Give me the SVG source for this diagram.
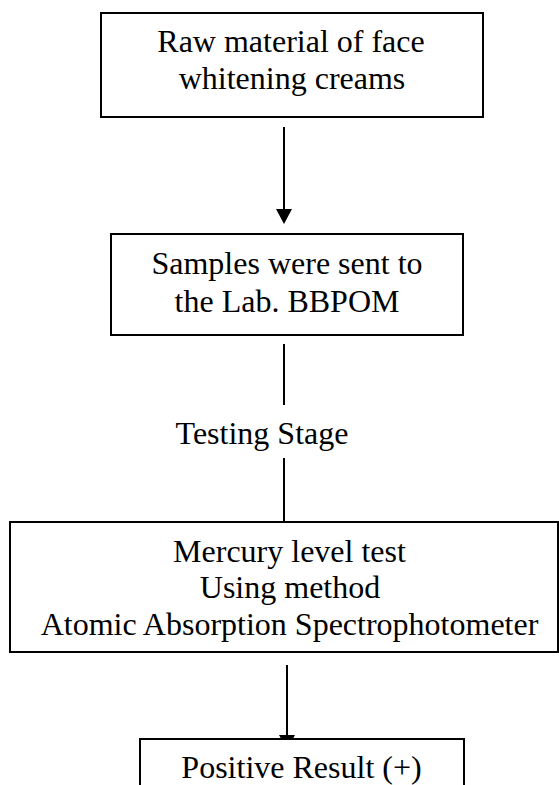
<svg xmlns="http://www.w3.org/2000/svg" width="559" height="785" viewBox="0 0 559 785">
<style>
.box{fill:#fff;stroke:#000;stroke-width:2}
.t{font-family:"Liberation Serif","Times New Roman",serif;font-size:32px;fill:#000;text-anchor:middle}
.c{stroke:#000;stroke-width:2;fill:none}
</style>
<defs>
<marker id="ah" markerUnits="userSpaceOnUse" markerWidth="16" markerHeight="16" viewBox="0 0 16 16" refX="8" refY="15" orient="auto-start-reverse">
<path d="M0,0 L16,0 L8,15 Z" fill="#000" transform="rotate(-90 8 8)"/>
</marker>
</defs>
<rect width="559" height="785" fill="#fff"/>
<g id="connectors">
<line class="c" x1="284" y1="127" x2="284" y2="210"/>
<path d="M276,209 L292,209 L284,224 Z" fill="#000"/>
<line class="c" x1="284" y1="344" x2="284" y2="405"/>
<line class="c" x1="284" y1="458" x2="284" y2="522"/>
<line class="c" x1="287" y1="665" x2="287" y2="740"/>
<path d="M279,735 L295,735 L287,750 Z" fill="#000"/>
</g>
<g id="node1">
<rect class="box" x="101" y="13" width="382" height="104"/>
<text class="t" x="291" y="52">Raw material of face</text>
<text class="t" x="292" y="89">whitening creams</text>
</g>
<g id="node2">
<rect class="box" x="111" y="234" width="352" height="101"/>
<text class="t" x="287" y="274">Samples were sent to</text>
<text class="t" x="287" y="312">the Lab. BBPOM</text>
</g>
<g id="label-testing">
<text class="t" x="262" y="444">Testing Stage</text>
</g>
<g id="node3">
<rect class="box" x="10" y="522" width="548" height="130"/>
<text class="t" x="289.5" y="562">Mercury level test</text>
<text class="t" x="290" y="598">Using method</text>
<text class="t" x="289.5" y="635">Atomic Absorption Spectrophotometer</text>
</g>
<g id="node4">
<rect class="box" x="140" y="739" width="324" height="70"/>
<text class="t" x="301.5" y="778">Positive Result (+)</text>
</g>
</svg>
